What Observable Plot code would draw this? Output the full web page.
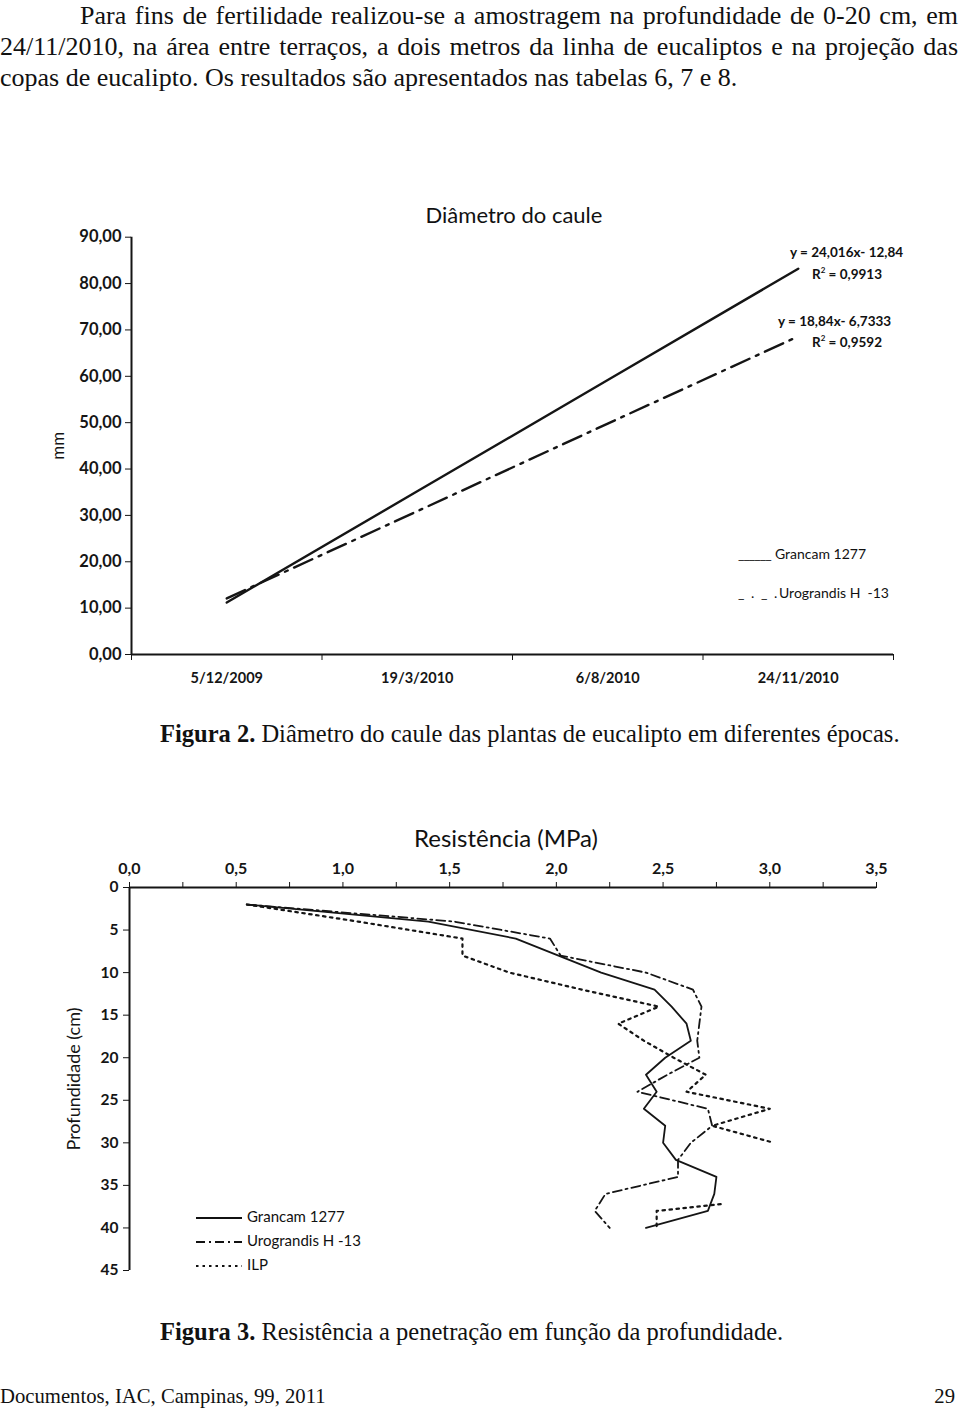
<!DOCTYPE html>
<html><head><meta charset="utf-8">
<script src="https://cdn.jsdelivr.net/npm/d3@7"></script>
<script src="https://cdn.jsdelivr.net/npm/@observablehq/plot@0.6"></script>
<style>
html,body{margin:0;padding:0;background:#fff;}
body{width:960px;height:1412px;position:relative;overflow:hidden;color:#111;font-family:"Liberation Serif",serif;}
.abs{position:absolute;white-space:nowrap;}
.pl{position:absolute;white-space:nowrap;font-size:26px;line-height:31px;}
.sans{font-family:Lato,"Open Sans",sans-serif;}
.cap{font-size:24.5px;}
#chart1,#chart2{position:absolute;left:0;}
#chart1{top:222px;} #chart2{top:850px;}
.eq{font-family:Lato,sans-serif;font-size:13.5px;font-weight:bold;}
.leg{font-family:Lato,sans-serif;font-size:14px;}
.leg2{font-family:Lato,sans-serif;font-size:15px;}
</style></head>
<body>
<div class="pl" data-left="80" data-right="958" style="left:80px;top:0px">Para fins de fertilidade realizou-se a amostragem na profundidade de 0-20 cm, em</div>
<div class="pl" data-left="0" data-right="958" style="left:0px;top:31px">24/11/2010, na área entre terraços, a dois metros da linha de eucaliptos e na projeção das</div>
<div class="pl" style="left:0px;top:62px">copas de eucalipto. Os resultados são apresentados nas tabelas 6, 7 e 8.</div>

<div id="chart1"></div>
<div id="chart2"></div>

<div class="abs sans" style="left:514px;top:214px;transform:translate(-50%,-50%);font-size:22px;">Diâmetro do caule</div>
<div class="abs eq" style="left:790px;top:244px;">y = 24,016x- 12,84</div>
<div class="abs eq" style="left:812px;top:265px;">R<sup style="font-size:8px">2</sup> = 0,9913</div>
<div class="abs eq" style="left:778px;top:313px;">y = 18,84x- 6,7333</div>
<div class="abs eq" style="left:812px;top:333px;">R<sup style="font-size:8px">2</sup> = 0,9592</div>
<div class="abs leg" style="left:738px;top:545px;letter-spacing:-1px">______</div>
<div class="abs leg" style="left:775px;top:545px;">Grancam 1277</div>
<div class="abs leg" style="left:738px;top:584px;letter-spacing:1.5px">_ . _ .</div>
<div class="abs leg" style="left:779px;top:584px;">Urograndis H &nbsp;-13</div>

<div class="abs cap" style="left:160px;top:720px;"><b>Figura 2.</b> Diâmetro do caule das plantas de eucalipto em diferentes épocas.</div>

<div class="abs sans" style="left:506px;top:837px;transform:translate(-50%,-50%);font-size:24px;">Resistência (MPa)</div>

<div class="abs leg2" style="left:196px;top:1204px;line-height:24px;">
<div><svg width="51" height="10" style="vertical-align:middle"><line x1="0" x2="46" y1="5" y2="5" stroke="#111" stroke-width="2"/></svg>Grancam 1277</div>
<div><svg width="51" height="10" style="vertical-align:middle"><line x1="0" x2="46" y1="5" y2="5" stroke="#111" stroke-width="2" stroke-dasharray="9,4,2,4"/></svg>Urograndis H -13</div>
<div><svg width="51" height="10" style="vertical-align:middle"><line x1="0" x2="46" y1="5" y2="5" stroke="#111" stroke-width="2" stroke-dasharray="2.5,4"/></svg>ILP</div>
</div>

<div class="abs cap" style="left:160px;top:1318px;"><b>Figura 3.</b> Resistência a penetração em função da profundidade.</div>
<div class="abs" style="left:0px;top:1385px;font-size:20.7px;">Documentos, IAC, Campinas, 99, 2011</div>
<div class="abs" style="right:5px;top:1385px;font-size:20.7px;">29</div>

<script>
// ---- Figura 2: Diâmetro do caule ----
const dates = ["5/12/2009", "19/3/2010", "6/8/2010", "24/11/2010"];
const epoch = [1, 2, 3, 4];
const grancamDiam = [11.2, 35.2, 59.2, 83.2];
const urograndisDiam = [12.1, 30.9, 49.8, 68.6];
const diamTicks = [0, 10, 20, 30, 40, 50, 60, 70, 80, 90];

// ---- Figura 3: Resistência à penetração ----
const depth = [2, 4, 6, 8, 10, 12, 14, 16, 18, 20, 22, 24, 26, 28, 30, 32, 34, 36, 38, 40];
const grancamRes = [0.55, 1.40, 1.81, 2.01, 2.21, 2.46, 2.54, 2.61, 2.63, 2.51, 2.42, 2.47, 2.41, 2.51, 2.50, 2.56, 2.75, 2.74, 2.71, 2.42];
const urograndisRes = [0.55, 1.52, 1.97, 2.02, 2.42, 2.64, 2.68, 2.67, 2.66, 2.67, 2.52, 2.38, 2.71, 2.73, 2.63, 2.57, 2.57, 2.23, 2.18, 2.25];
const ilpDepth = [2, 4, 6, 8, 10, 12, 14, 16, 18, 20, 22, 24, 26, 28, 30, 33, 37.2, 38, 40];
const ilpRes = [0.55, 1.07, 1.56, 1.56, 1.78, 2.12, 2.48, 2.29, 2.41, 2.55, 2.70, 2.61, 3.00, 2.73, 3.02, null, 2.77, 2.47, 2.47];
const resTicks = [0, 0.5, 1.0, 1.5, 2.0, 2.5, 3.0, 3.5];
const depthTicks = [0, 5, 10, 15, 20, 25, 30, 35, 40, 45];

// justify paragraph lines to the page measure
document.querySelectorAll(".pl[data-right]").forEach(el => {
  const target = +el.dataset.right - +el.dataset.left;
  const w = el.getBoundingClientRect().width;
  const txt = el.textContent;
  const spaces = (txt.match(/ /g) || []).length;
  if (w < target) el.style.wordSpacing = ((target - w) / spaces) + "px";
  else el.style.letterSpacing = ((target - w) / txt.length) + "px";
});

const ink = "#151515";
const comma = (v, n) => v.toFixed(n).replace(".", ",");

const diamData = epoch.map((e, i) => ({e, g: grancamDiam[i], u: urograndisDiam[i]}));
const bounds = [0.5].concat(epoch.map(e => e + 0.5));

const c1 = Plot.plot({
  width: 960, height: 488,
  marginLeft: 131, marginRight: 67, marginTop: 14.7, marginBottom: 56,
  style: {fontFamily: "Lato, 'Open Sans', sans-serif", color: ink, background: "transparent", overflow: "visible"},
  x: {domain: [0.5, 4.5]},
  y: {domain: [0, 90]},
  marks: [
    Plot.axisY({ticks: diamTicks, tickSize: 6, tickPadding: 4, fontSize: 16.5, fontWeight: "bold",
      tickFormat: d => comma(d, 2), label: null}),
    Plot.axisY({ticks: [], tickSize: 0, label: "mm", labelAnchor: "center", labelArrow: "none", labelOffset: 80, fontSize: 17}),
    Plot.axisX({ticks: bounds, tickSize: 6, tickFormat: () => "", label: null}),
    Plot.axisX({ticks: epoch, tickSize: 0, tickPadding: 18, fontSize: 14.5, fontWeight: "bold",
      tickFormat: i => dates[i - 1], label: null}),
    Plot.ruleY([0], {stroke: ink, strokeWidth: 2}),
    Plot.ruleX([0.5], {stroke: ink, strokeWidth: 2}),
    Plot.line(diamData, {x: "e", y: "g", stroke: ink, strokeWidth: 2.4}),
    Plot.line(diamData, {x: "e", y: "u", stroke: ink, strokeWidth: 2.4, strokeDasharray: "20,7,3,7"})
  ]
});
document.getElementById("chart1").append(c1);

const resData = depth.map((d, i) => ({d, g: grancamRes[i], u: urograndisRes[i]}));
const ilpData = ilpDepth.map((d, i) => ({d, r: ilpRes[i]}));
const minor = d3.range(0, 3.501, 0.25);

const c2 = Plot.plot({
  width: 960, height: 440,
  marginLeft: 129, marginRight: 84, marginTop: 37, marginBottom: 20,
  style: {fontFamily: "Lato, 'Open Sans', sans-serif", color: ink, background: "transparent", overflow: "visible"},
  x: {domain: [0, 3.5], axis: null},
  y: {domain: [0, 45], reverse: true},
  marks: [
    Plot.axisX({anchor: "top", ticks: minor, tickSize: 6, tickFormat: () => "", label: null}),
    Plot.axisX({anchor: "top", ticks: resTicks, tickSize: 0, tickPadding: 14, fontSize: 16, fontWeight: "bold",
      tickFormat: d => comma(d, 1), label: null}),
    Plot.axisY({ticks: depthTicks, tickSize: 6, tickPadding: 5, fontSize: 15.5, fontWeight: "bold", label: null}),
    Plot.axisY({ticks: [], tickSize: 0, label: "Profundidade (cm)", labelAnchor: "center", labelArrow: "none", labelOffset: 62, fontSize: 18}),
    Plot.ruleY([0], {stroke: ink, strokeWidth: 2}),
    Plot.ruleX([0], {stroke: ink, strokeWidth: 2}),
    Plot.line(resData, {x: "g", y: "d", stroke: ink, strokeWidth: 1.8}),
    Plot.line(resData, {x: "u", y: "d", stroke: ink, strokeWidth: 1.8, strokeDasharray: "9,4,2,4"}),
    Plot.line(ilpData, {x: "r", y: "d", stroke: ink, strokeWidth: 2.2, strokeDasharray: "2.5,4.5"})
  ]
});
document.getElementById("chart2").append(c2);
</script>
</body></html>
